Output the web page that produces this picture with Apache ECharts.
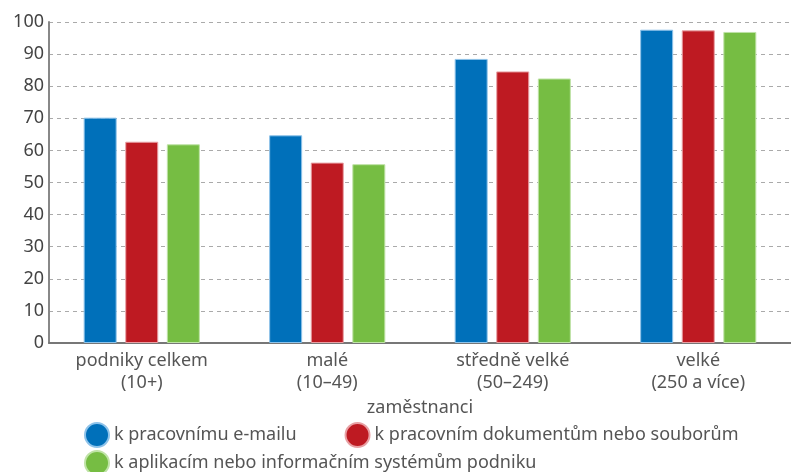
<!DOCTYPE html>
<html>
<head>
<meta charset="utf-8">
<script src="https://cdn.jsdelivr.net/npm/echarts@6/dist/echarts.min.js"></script>
<style>
  html, body { margin: 0; padding: 0; background: #fff; }
  #chart { width: 791px; height: 472px; }
</style>
</head>
<body>
<div id="chart"></div>
<script>
// kategorie podle velikosti podniku
const categories = ['podniky celkem\n(10+)', 'malé\n(10–49)', 'středně velké\n(50–249)', 'velké\n(250 a více)']
const seriesNames = [
  'k pracovnímu e-mailu',
  'k pracovním dokumentům nebo souborům',
  'k aplikacím nebo informačním systémům podniku'
]
const emailValues = [70.2, 64.7, 88.5, 97.6]
const docsValues = [62.7, 56.2, 84.6, 97.4]
const appsValues = [61.9, 55.7, 82.4, 96.9]
const colors = ['#0070BA', '#BE1A22', '#76BD43']
const borders = ['#8EC3EA', '#E8A0A4', '#BFE3A6']

const font = 'Noto Sans'
const textColor = '#555'

const makeSeries = (name, data, i) => ({
  name,
  type: 'bar',
  data,
  barWidth: 33,
  barGap: '26%',
  itemStyle: {
    color: colors[i],
    borderColor: borders[i],
    borderWidth: 1
  }
})

const option = {
  animation: false,
  textStyle: { fontFamily: font },
  grid: { left: 49, right: 0, top: 22, bottom: 129 },
  legend: [
    {
      data: [seriesNames[0], seriesNames[1]],
      left: 84,
      top: 422,
      icon: 'circle',
      itemWidth: 24,
      itemHeight: 24,
      itemGap: 48,
      padding: 0,
      textStyle: { color: textColor, fontSize: 18, fontFamily: font }
    },
    {
      data: [seriesNames[2]],
      left: 84,
      top: 450,
      icon: 'circle',
      itemWidth: 24,
      itemHeight: 24,
      padding: 0,
      textStyle: { color: textColor, fontSize: 18, fontFamily: font }
    }
  ],
  xAxis: {
    type: 'category',
    data: categories,
    axisLine: { lineStyle: { color: '#777', width: 2 } },
    axisTick: { show: false },
    axisLabel: {
      color: textColor,
      fontSize: 18,
      lineHeight: 22,
      margin: 7,
      fontFamily: font
    },
    name: 'zaměstnanci',
    nameLocation: 'middle',
    nameGap: 54,
    nameTextStyle: { color: textColor, fontSize: 18, fontFamily: font }
  },
  yAxis: {
    type: 'value',
    min: 0,
    max: 100,
    interval: 10,
    axisLine: { show: true, lineStyle: { color: '#888', width: 2 } },
    axisTick: { show: false },
    axisLabel: { color: '#444', fontSize: 18, margin: 5, fontFamily: font },
    splitLine: { lineStyle: { color: '#aaa', type: [4, 4], width: 1 } }
  },
  series: [
    makeSeries(seriesNames[0], emailValues, 0),
    makeSeries(seriesNames[1], docsValues, 1),
    makeSeries(seriesNames[2], appsValues, 2)
  ]
}

const myChart = echarts.init(document.getElementById('chart'))
option && myChart.setOption(option)
</script>
</body>
</html>
